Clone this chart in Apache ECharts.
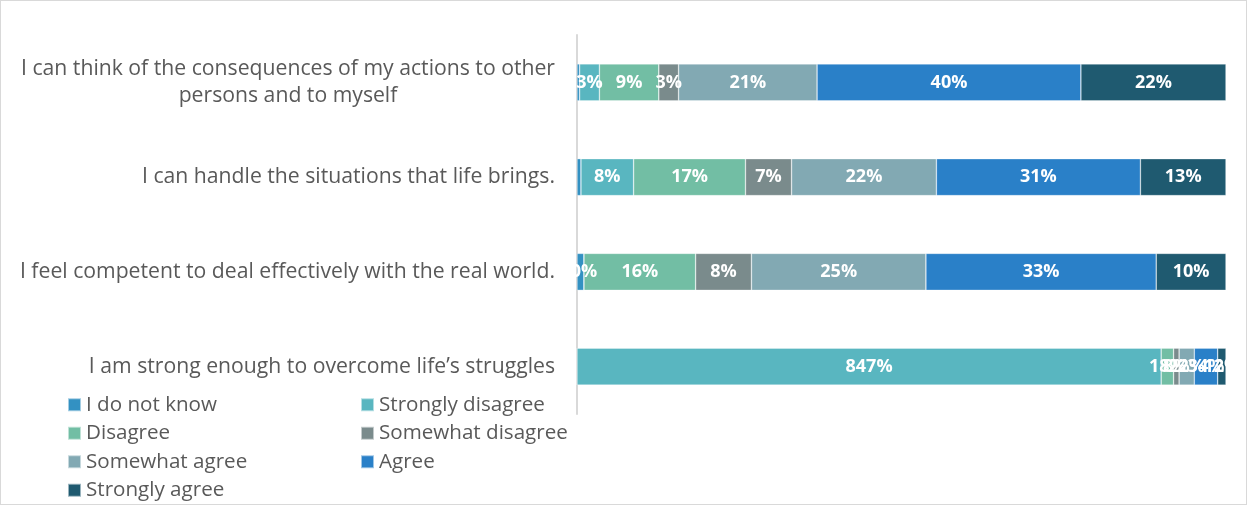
<!DOCTYPE html>
<html>
<head>
<meta charset="utf-8">
<script src="https://cdn.jsdelivr.net/npm/echarts@6/dist/echarts.min.js"></script>
<style>
  html, body { margin: 0; padding: 0; background: #fff; }
  #chart { width: 1245px; height: 503px; border: 1px solid #d9d9d9; }
</style>
</head>
<body>
<div id="chart"></div>
<script>
// Survey statements (top to bottom)
const categories = [
  'I can think of the consequences of my actions to other\npersons and to myself',
  'I can handle the situations that life brings.',
  'I feel competent to deal effectively with the real world.',
  'I am strong enough to overcome life\u2019s struggles'
];

// Response categories, in stacking order
const responseNames = [
  'I do not know', 'Strongly disagree', 'Disagree', 'Somewhat disagree',
  'Somewhat agree', 'Agree', 'Strongly agree'
];

// Reported values per statement (as labelled)
const dontKnow         = [0.4, 0.6, 1, 0];
const stronglyDisagree = [3, 8, 0, 847];
const disagree         = [9, 17, 16, 18];
const somewhatDisagree = [3, 7, 8, 8];
const somewhatAgree    = [21, 22, 25, 22];
const agree            = [40, 31, 33, 34];
const stronglyAgree    = [22, 13, 10, 12];

const colors = ['#3391C2', '#59B6C0', '#72BEA4', '#7A8B8C', '#82A9B3', '#2A80C8', '#1F5A70'];

const seriesValues = [dontKnow, stronglyDisagree, disagree, somewhatDisagree,
                      somewhatAgree, agree, stronglyAgree];

// Each row is drawn as a 100% stacked bar
const rowTotals = categories.map((_, i) =>
  seriesValues.reduce((s, arr) => s + arr[i], 0));

const font = '"Open Sans", Lato, sans-serif';

const series = seriesValues.map((vals, k) => ({
  name: responseNames[k],
  type: 'bar',
  stack: 'total',
  barCategoryGap: '61%',
  itemStyle: { color: colors[k], borderColor: 'rgba(255,255,255,0.55)', borderWidth: 0.6 },
  label: {
    show: k !== 0,
    position: 'inside',
    color: '#fff',
    fontFamily: font,
    fontWeight: 'bold',
    fontSize: 18,
    formatter: p => vals[p.dataIndex] + '%'
  },
  data: vals.map((v, i) => v / rowTotals[i] * 100)
}));

const chart = echarts.init(document.getElementById('chart'));
chart.setOption({
  animation: false,
  grid: { left: 576, right: 20, top: 34, height: 379 },
  xAxis: { type: 'value', min: 0, max: 100, show: false },
  yAxis: {
    type: 'category',
    inverse: true,
    data: categories,
    axisTick: { show: false },
    axisLine: { show: true, lineStyle: { color: '#d9d9d9', width: 2 } },
    axisLabel: {
      margin: 22,
      fontFamily: font,
      fontSize: 21.2,
      color: '#595959',
      formatter: v => v.split('\n').map(s => '{c|' + s + '}').join('\n'),
      rich: { c: { align: 'center', fontFamily: font, fontSize: 21.2, color: '#595959', lineHeight: 27 } }
    }
  },
  legend: {
    left: 61,
    top: 387,
    width: 620,
    itemWidth: 13,
    itemHeight: 13,
    itemGap: 5,
    icon: 'rect',
    data: responseNames,
    textStyle: { fontFamily: font, fontSize: 20.6, color: '#595959', width: 269, lineHeight: 23.5 }
  },
  series: series
});
</script>
</body>
</html>
